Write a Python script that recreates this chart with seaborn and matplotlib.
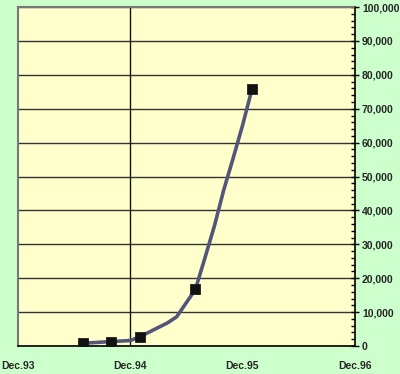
import matplotlib
matplotlib.use("Agg")
import matplotlib.pyplot as plt
import matplotlib.dates as mdates
from matplotlib.ticker import MultipleLocator, FuncFormatter
import pandas as pd
import seaborn as sns

# ---- data ----
line_dates = ["1994-07-01", "1994-10-01", "1994-12-01", "1995-01-01", "1995-04-01",
              "1995-05-01", "1995-07-01", "1995-08-01", "1995-09-01", "1995-10-01",
              "1995-11-01", "1995-12-01", "1996-01-01"]
line_values = [800, 1300, 1600, 2700, 6800, 8600, 16700, 26000, 35500, 46000,
               55500, 65000, 75800]
marker_dates = ["1994-07-01", "1994-10-01", "1995-01-01", "1995-07-01", "1996-01-01"]
marker_values = [800, 1300, 2700, 16700, 75800]
x_tick_dates = ["1993-12-01", "1994-12-01", "1995-12-01", "1996-12-01"]
x_tick_labels = ["Dec.93", "Dec.94", "Dec.95", "Dec.96"]

line_df = pd.DataFrame({"date": pd.to_datetime(line_dates), "value": line_values})
mark_df = pd.DataFrame({"date": pd.to_datetime(marker_dates), "value": marker_values})
xt = pd.to_datetime(x_tick_dates)

sns.set_style("white")
plt.rcParams["font.family"] = ["Liberation Sans", "DejaVu Sans"]

fig = plt.figure(figsize=(4.0, 3.74), dpi=100)
fig.patch.set_facecolor("#ccffcc")
ax = fig.add_axes([0.045, 0.075, 0.8425, 0.906])
ax.set_facecolor("#ffffcc")

# horizontal gridlines
ax.yaxis.set_major_locator(MultipleLocator(10000))
ax.yaxis.set_minor_locator(MultipleLocator(2000))
ax.grid(axis="y", which="major", color="#333333", linewidth=1.0)
ax.grid(axis="x", visible=False)
ax.axvline(xt[1], color="#111111", linewidth=1.0, zorder=1)

sns.lineplot(data=line_df, x="date", y="value", ax=ax, color="#55557a",
             linewidth=2.6, zorder=3)
sns.scatterplot(data=mark_df, x="date", y="value", ax=ax, marker="s", s=45,
                color="#111111", edgecolor="#111111", zorder=4)

ax.set_xlim(xt[0], xt[-1])
ax.set_ylim(0, 100000)

ax.set_xticks(xt)
ax.set_xticklabels(x_tick_labels)
ax.xaxis.set_minor_locator(mdates.MonthLocator())
ax.tick_params(axis="x", which="major", direction="out", length=4, width=1,
               color="black", labelsize=7.5, pad=7)
ax.tick_params(axis="x", which="minor", direction="in", length=3, width=1, color="black")
for lab in ax.get_xticklabels():
    lab.set_fontweight("bold")

ax.yaxis.tick_right()
ax.yaxis.set_label_position("right")
ax.yaxis.set_major_formatter(FuncFormatter(lambda v, p: f"{int(v):,}"))
ax.tick_params(axis="y", which="major", direction="inout", length=6, width=1,
               color="black", labelsize=7.5, pad=2)
ax.tick_params(axis="y", which="minor", direction="in", length=3, width=1, color="black")
for lab in ax.get_yticklabels():
    lab.set_fontweight("bold")

ax.set_xlabel("")
ax.set_ylabel("")

for side in ["left", "top"]:
    ax.spines[side].set_color("#777777")
    ax.spines[side].set_linestyle((0, (1, 1)))
    ax.spines[side].set_linewidth(1.5)
ax.spines["right"].set_color("black")
ax.spines["bottom"].set_color("black")
ax.spines["right"].set_linewidth(1.2)
ax.spines["bottom"].set_linewidth(1.2)

fig.savefig("out.png", dpi=100, facecolor=fig.get_facecolor())
